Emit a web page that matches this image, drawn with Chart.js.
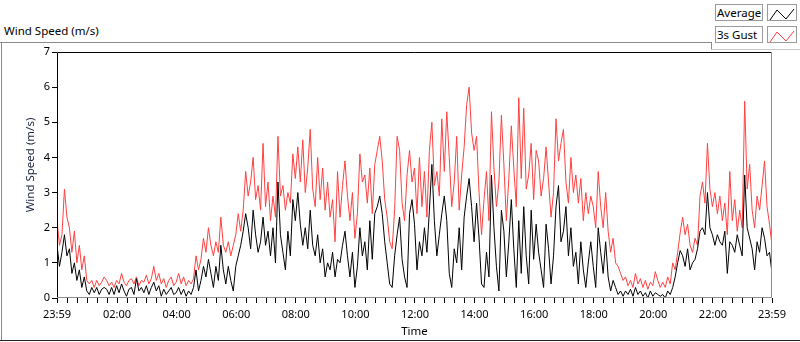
<!DOCTYPE html>
<html>
<head>
<meta charset="utf-8">
<script src="https://cdn.jsdelivr.net/npm/chart.js@4/dist/chart.umd.min.js"></script>
<style>
    body { margin: 0; background: #fff; font-family: "Noto Sans", sans-serif; }
    #wrap { position: relative; width: 800px; height: 342px; overflow: hidden; }
    #chart { position: absolute; left: 0; top: 0; }
    .title { position: absolute; left: 4px; top: 23px; font-size: 11.5px; color: #000; }
    .frameTop { position: absolute; left: 0; top: 42px; width: 711px; height: 0; border-top: 1px solid #8a8a8a; }
    .frameLeft { position: absolute; left: 1px; top: 42px; width: 0; height: 299px; border-left: 1px solid #8a8a8a; }
    .frameBottom { position: absolute; left: 0; top: 340px; width: 800px; height: 0; border-top: 1px solid #222; }
    .legStep { position: absolute; left: 711px; top: 42px; width: 0; height: 7px; border-left: 1px solid #8a8a8a; }
    .legBottom { position: absolute; left: 711px; top: 49px; width: 89px; height: 0; border-top: 1px solid #c8c8c8; }
    .legName { position: absolute; left: 715px; width: 45px; height: 15px; border: 1px solid #9a9a9a;
               font-size: 11.5px; line-height: 15px; padding-left: 1px; color: #000; white-space: nowrap; }
    .legSwatch { position: absolute; left: 767px; width: 28px; height: 15px; border: 1px solid #9a9a9a; }
</style>
</head>
<body>
<div id="wrap">
    <div class="title">Wind Speed (m/s)</div>
    <div class="frameTop"></div>
    <div class="frameLeft"></div>
    <div class="frameBottom"></div>
    <div class="legStep"></div>
    <div class="legBottom"></div>
    <div class="legName" style="top:4px">Average</div>
    <div class="legSwatch" style="top:4px">
        <svg width="28" height="15"><polyline points="2,13 9,3 18,12 26,2" fill="none" stroke="#000" stroke-width="1"/></svg>
    </div>
    <div class="legName" style="top:26px">3s Gust</div>
    <div class="legSwatch" style="top:26px">
        <svg width="28" height="15"><polyline points="2,13 9,3 18,12 26,2" fill="none" stroke="#ff4040" stroke-width="1"/></svg>
    </div>
    <canvas id="chart" width="800" height="342"></canvas>
</div>
<script>
// Samples every 5 minutes, starting 23:59
const stepMinutes = 5;

const average = [
    1.5, 0.9, 1.3, 1.8, 1.2, 1.4, 0.7, 1.0, 0.5, 0.8,
    0.3, 0.6, 0.2, 0.1, 0.3, 0.15, 0.3, 0.1, 0.25, 0.3,
    0.25, 0.1, 0.3, 0.1, 0.35, 0.15, 0.4, 0.2, 0.05, 0.25,
    0.3, 0.1, 0.55, 0.2, 0.3, 0.15, 0.35, 0.1, 0.3, 0.45,
    0.2, 0.35, 0.05, 0.25, 0.1, 0.2, 0.3, 0.1, 0.15, 0.3,
    0.1, 0.25, 0.05, 0.2, 0.1, 0.3, 0.8, 0.2, 0.5, 0.9,
    0.6, 1.1, 0.7, 0.3, 0.9, 0.5, 1.5, 0.8, 0.4, 0.9,
    0.5, 0.2, 0.9, 1.2, 1.5, 1.9, 2.4, 2.0, 1.4, 2.5,
    1.8, 1.3, 1.6, 2.3, 1.5, 1.9, 1.2, 2.0, 1.0, 3.3,
    1.8, 1.3, 0.8, 1.9, 1.2, 2.8, 2.2, 3.0, 2.1, 1.5,
    2.0, 1.4, 2.5, 1.5, 1.2, 1.8, 1.0, 1.4, 0.6, 1.0,
    0.8, 1.3, 0.6, 1.1, 1.0, 1.5, 1.9, 1.2, 0.6, 1.3,
    0.3, 0.9, 2.0, 1.2, 1.6, 0.8, 2.2, 1.1, 2.4, 2.6,
    2.9, 2.4, 1.6, 1.0, 0.4, 0.3, 1.2, 1.8, 2.3, 1.1,
    0.6, 0.3, 2.4, 2.8, 2.1, 0.8, 1.6, 1.2, 2.0, 1.3,
    2.5, 3.8, 2.2, 1.2, 1.8, 2.4, 2.9, 2.2, 0.7, 0.3,
    1.4, 1.0, 2.0, 0.8, 2.3, 2.9, 3.4, 2.6, 1.6, 2.7,
    1.7, 0.4, 0.3, 1.3, 0.6, 3.5, 2.0, 0.9, 0.2, 2.5,
    1.9, 0.6, 1.6, 2.8, 1.4, 0.3, 2.2, 0.7, 2.6, 1.2,
    0.4, 2.5, 1.1, 2.1, 1.3, 0.8, 0.3, 2.1, 1.4, 0.4,
    1.2, 2.6, 3.2, 1.6, 1.9, 2.6, 1.2, 2.0, 0.9, 1.3,
    0.4, 1.6, 0.8, 0.3, 1.0, 1.6, 0.9, 0.3, 2.0, 1.3,
    0.7, 1.6, 0.6, 0.2, 0.5, 0.3, 0.1, 0.2, 0.05, 0.2,
    0.1, 0.25, 0.05, 0.3, 0.1, 0.2, 0.05, 0.15, 0.0, 0.2,
    0.05, 0.15, 0.1, 0.05, 0.1, 0.0, 0.2, 0.1, 0.3, 0.6,
    1.0, 1.35, 1.2, 0.9, 1.4, 0.8, 1.0, 1.1, 1.4, 1.9,
    2.0, 1.8, 3.0, 2.0, 1.8, 1.5, 1.8, 1.6, 1.5, 1.9,
    0.7, 1.6, 1.5, 1.3, 1.8, 1.5, 1.2, 3.5, 2.0, 1.7,
    1.4, 0.8, 1.6, 1.3, 2.0, 1.7, 1.2, 1.3, 0.7
];

const gust = [
    2.2, 1.5, 1.8, 3.1, 2.3, 2.0, 1.3, 1.9, 1.0, 1.5,
    0.8, 1.2, 0.5, 0.4, 0.5, 0.3, 0.5, 0.35, 0.45, 0.6,
    0.5, 0.35, 0.45, 0.3, 0.5, 0.4, 0.7, 0.45, 0.35, 0.5,
    0.55, 0.4, 0.6, 0.35, 0.5, 0.45, 0.65, 0.4, 0.55, 0.9,
    0.5, 0.7, 0.4, 0.55, 0.3, 0.5, 0.6, 0.35, 0.45, 0.7,
    0.4, 0.6, 0.35, 0.5, 0.4, 0.55, 1.2, 0.8, 1.1, 1.7,
    1.3, 2.0, 1.5, 1.2, 1.6, 1.3, 2.3, 1.5, 1.3, 1.6,
    1.2, 1.5, 1.8, 2.4, 1.9, 2.5, 3.6, 2.9, 3.3, 4.0,
    2.8, 3.2, 2.5, 4.4, 2.6, 3.3, 2.2, 2.9, 2.3, 4.6,
    2.9, 3.2, 2.5, 3.0, 2.7, 4.1, 3.4, 4.3, 3.3, 4.5,
    3.0, 3.7, 4.8, 3.1, 2.6, 4.0, 2.8, 3.7, 2.5, 3.3,
    2.3, 2.8, 1.6, 3.6, 2.3, 3.2, 3.9, 2.9, 2.2, 3.0,
    1.7, 2.4, 4.1, 3.3, 3.5, 2.7, 3.7, 2.4, 3.8, 4.2,
    4.6, 3.9, 2.8, 2.3, 1.6, 1.4, 2.5, 4.6, 4.2, 2.7,
    2.2, 3.5, 4.2, 3.3, 3.7, 2.4, 4.0, 2.6, 3.6, 2.3,
    4.2, 5.0, 3.2, 3.6, 2.9, 5.1, 3.6, 5.3, 4.0, 2.6,
    3.3, 4.6, 2.5, 3.5, 4.3, 5.5, 6.0, 4.7, 4.2, 4.6,
    3.0, 1.8, 2.8, 3.6, 2.2, 5.3, 3.7, 2.6, 3.3, 5.2,
    3.8, 2.2, 3.4, 4.9, 3.7, 2.6, 5.7, 3.4, 5.4, 3.1,
    3.5, 4.4, 2.8, 4.2, 3.9, 2.9, 3.4, 4.3, 3.3, 2.3,
    3.0, 5.1, 3.9, 4.4, 4.8, 3.3, 2.7, 4.0, 3.0, 3.5,
    2.7, 3.4, 2.2, 3.0, 2.4, 2.9, 2.6, 2.0, 3.6, 2.6,
    2.0, 3.0, 1.9, 1.3, 1.7, 1.0, 0.9, 0.7, 0.5, 0.6,
    0.35, 0.5, 0.3, 0.7, 0.4, 0.55, 0.3, 0.5, 0.25, 0.45,
    0.35, 0.75, 0.5, 0.3, 0.45, 0.3, 0.6, 0.4, 1.0, 0.8,
    1.3, 1.85, 2.3, 1.8, 2.1, 1.5, 1.3, 1.7, 1.5, 2.9,
    3.3, 2.7, 4.4, 3.1, 2.6, 3.0, 2.4, 2.9, 2.2, 2.7,
    1.8, 3.6, 2.2, 2.8, 1.9, 2.5, 2.0, 5.6, 3.1, 3.8,
    2.5, 2.0, 2.9, 2.5, 3.2, 3.9, 2.6, 2.1, 1.5
];

// Labelled ticks (minutes after 23:59)
const tickMinutes = [0, 121, 241, 361, 481, 601, 721, 841, 961, 1081, 1201, 1321, 1440];
const tickLabels = ['23:59', '02:00', '04:00', '06:00', '08:00', '10:00', '12:00',
                    '14:00', '16:00', '18:00', '20:00', '22:00', '23:59'];

const yTitle = 'Wind Speed (m/s)';
const xTitle = 'Time';

const toPoints = arr => arr.map((v, i) => ({ x: i * stepMinutes, y: v }));

// plot frame: top/left black, bottom/right gray; y title sits a bit above centre
const plotFrame = {
    id: 'plotFrame',
    afterDatasetsDraw(chart) {
        const { ctx, chartArea: a } = chart;
        ctx.save();
        ctx.lineWidth = 1;
        ctx.strokeStyle = '#000';
        ctx.beginPath();
        ctx.moveTo(a.left + 0.5, a.bottom);
        ctx.lineTo(a.left + 0.5, a.top + 0.5);
        ctx.lineTo(a.right, a.top + 0.5);
        ctx.stroke();
        ctx.strokeStyle = '#8c8c8c';
        ctx.beginPath();
        ctx.moveTo(a.right - 0.5, a.top);
        ctx.lineTo(a.right - 0.5, a.bottom - 0.5);
        ctx.lineTo(a.left, a.bottom - 0.5);
        ctx.stroke();
        ctx.restore();
    },
    afterDraw(chart) {
        const ctx = chart.ctx;
        ctx.save();
        ctx.translate(31, 165);
        ctx.rotate(-Math.PI / 2);
        ctx.font = '11.5px "Noto Sans"';
        ctx.fillStyle = '#1a2340';
        ctx.textAlign = 'center';
        ctx.textBaseline = 'middle';
        ctx.fillText(yTitle, 0, 0);
        ctx.restore();
    }
};

const tickFont = { family: 'Noto Sans', size: 11 };

new Chart(document.getElementById('chart').getContext('2d'), {
    type: 'line',
    data: {
        datasets: [
            {
                label: 'Average',
                data: toPoints(average),
                borderColor: '#000',
                borderWidth: 1,
                pointRadius: 0,
                tension: 0
            },
            {
                label: '3s Gust',
                data: toPoints(gust),
                borderColor: '#ff4040',
                borderWidth: 1,
                pointRadius: 0,
                tension: 0
            }
        ]
    },
    options: {
        responsive: false,
        animation: false,
        events: [],
        layout: { padding: { top: 52, right: 28, left: 0, bottom: 0 } },
        plugins: {
            legend: { display: false },
            tooltip: { enabled: false }
        },
        scales: {
            x: {
                type: 'linear',
                min: 0,
                max: 1440,
                afterFit: s => { s.height = 44; },
                afterBuildTicks: s => {
                    const vals = [0];
                    for (let m = 21; m < 1440; m += 20) vals.push(m);
                    vals.push(1440);
                    s.ticks = vals.map(v => ({ value: v }));
                },
                ticks: {
                    autoSkip: false,
                    maxRotation: 0,
                    padding: 5,
                    color: '#000',
                    font: tickFont,
                    callback: v => {
                        const k = tickMinutes.indexOf(v);
                        return k >= 0 ? tickLabels[k] : '';
                    }
                },
                grid: { display: true, drawOnChartArea: false, tickLength: 5, color: '#000' },
                border: { display: false },
                title: {
                    display: true,
                    text: xTitle,
                    color: '#000',
                    font: { family: 'Noto Sans', size: 11.5 },
                    padding: { top: 0, bottom: 3 }
                }
            },
            y: {
                min: 0,
                max: 7,
                afterFit: s => { s.width = 57; },
                ticks: { stepSize: 1, padding: 2, color: '#000', font: tickFont },
                grid: { display: true, drawOnChartArea: false, tickLength: 5, color: '#000' },
                border: { display: false }
            }
        }
    },
    plugins: [plotFrame]
});
</script>
</body>
</html>
